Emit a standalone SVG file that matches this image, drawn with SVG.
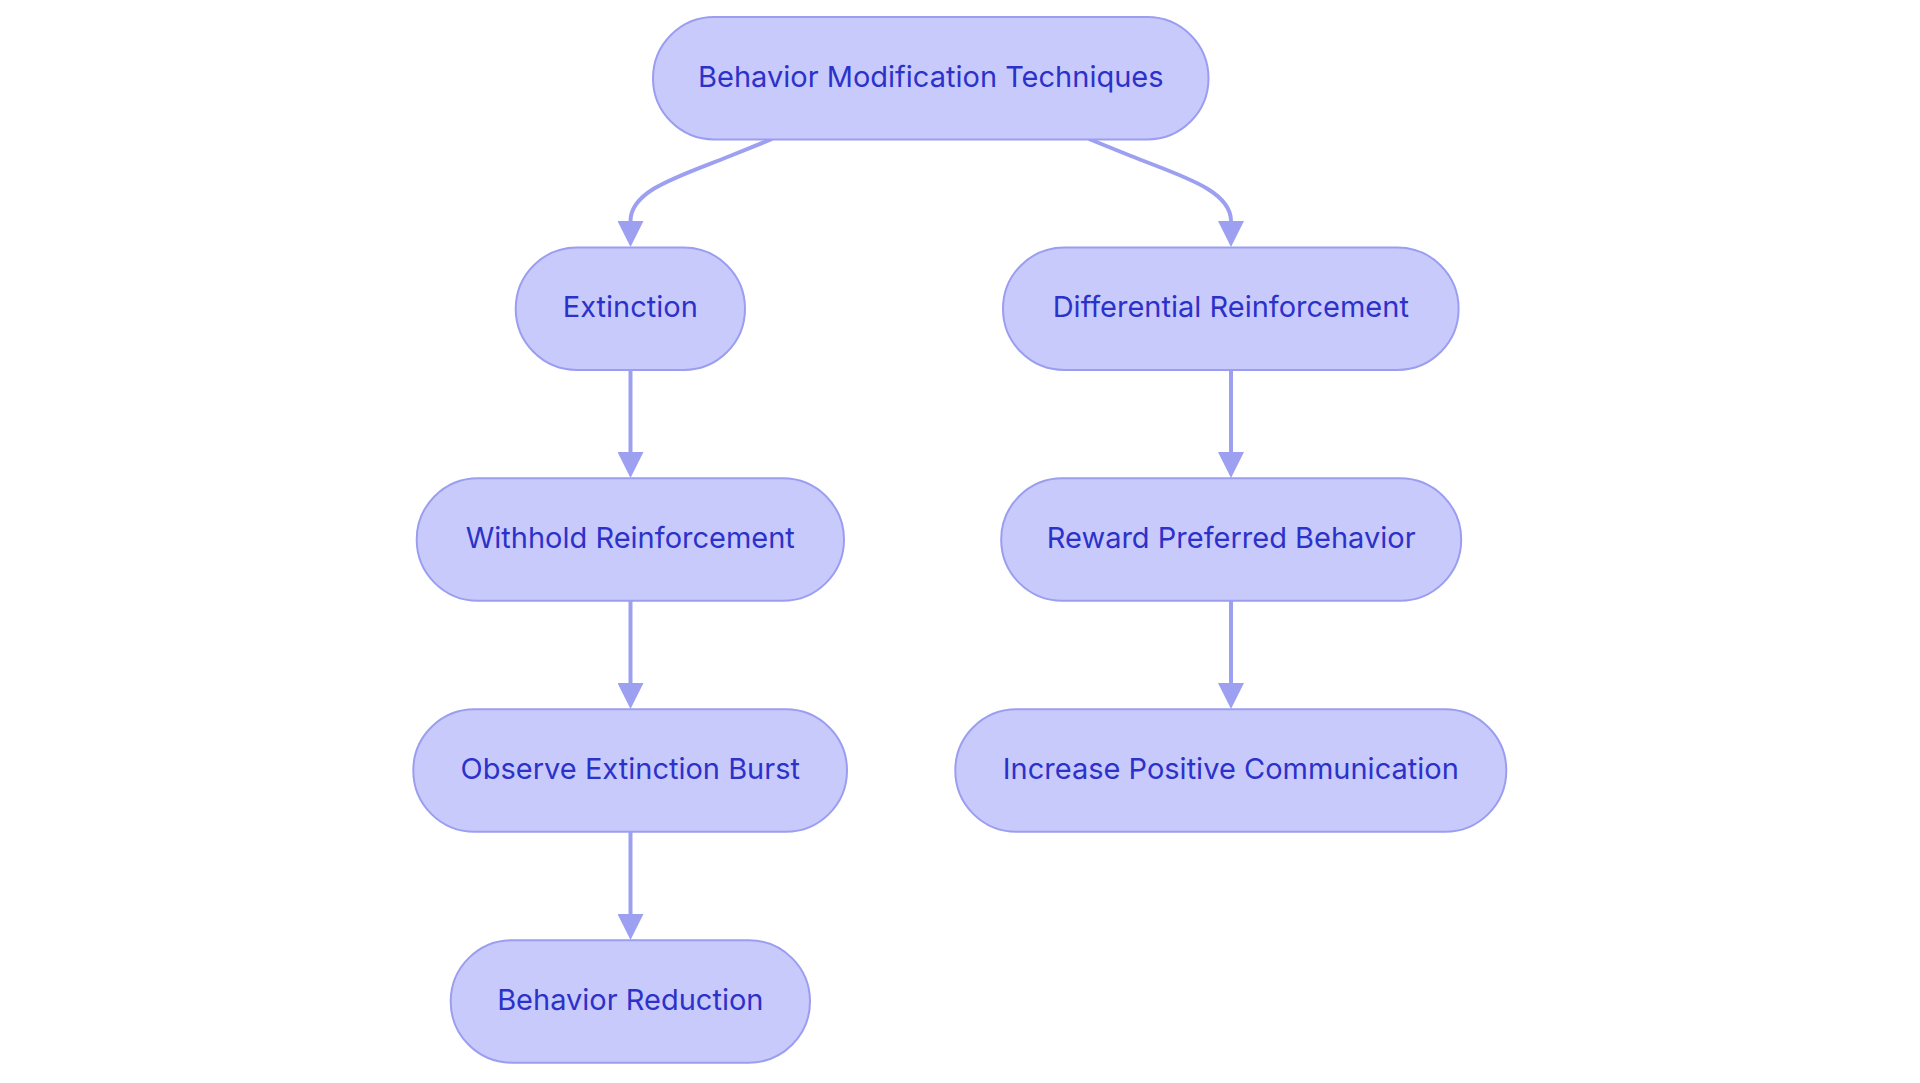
<svg xmlns="http://www.w3.org/2000/svg" width="1920" height="1083" viewBox="0 0 1920 1083">
<style>
.node rect{fill:#c9cafc;stroke:#9b9ef0;stroke-width:2}
.node text{font-family:Inter,"Open Sans","Liberation Sans",sans-serif;font-size:29px;fill:#2c32c9;text-anchor:middle}
.edges path{fill:none;stroke:#9da0f0;stroke-width:4}
</style>
<defs>
<marker id="arr" viewBox="0 0 10 10" refX="0" refY="5" markerWidth="27" markerHeight="26" markerUnits="userSpaceOnUse" orient="auto">
<path d="M0,0 L10,5 L0,10 z" fill="#9da0f0"/>
</marker>
</defs>
<rect width="1920" height="1083" fill="#ffffff"/>
<g class="edges">
<path d="M772,139 L730,156 C680,176 630.5,190 630.5,221" marker-end="url(#arr)"/>
<path d="M1089,139 L1131,156 C1181,176 1231,190 1231,221" marker-end="url(#arr)"/>
<path d="M630.5,370 L630.5,452" marker-end="url(#arr)"/>
<path d="M630.5,601 L630.5,683" marker-end="url(#arr)"/>
<path d="M630.5,832 L630.5,914" marker-end="url(#arr)"/>
<path d="M1231,370 L1231,452" marker-end="url(#arr)"/>
<path d="M1231,601 L1231,683" marker-end="url(#arr)"/>
</g>
<g id="n-top" class="node"><rect x="653" y="17" width="555.5" height="122.5" rx="61.25"/><text x="930.8" y="86.5">Behavior Modification Techniques</text></g>
<g id="n-ext" class="node"><rect x="515.7" y="247.5" width="229.3" height="122.5" rx="61.25"/><text x="630.3" y="317">Extinction</text></g>
<g id="n-withhold" class="node"><rect x="416.7" y="478.3" width="427.3" height="122.5" rx="61.25"/><text x="630.3" y="547.8">Withhold Reinforcement</text></g>
<g id="n-observe" class="node"><rect x="413.3" y="709.3" width="433.7" height="122.5" rx="61.25"/><text x="630.3" y="778.8">Observe Extinction Burst</text></g>
<g id="n-reduction" class="node"><rect x="450.7" y="940.2" width="359.3" height="122.5" rx="61.25"/><text x="630.3" y="1009.7">Behavior Reduction</text></g>
<g id="n-diff" class="node"><rect x="1003" y="247.5" width="455.6" height="122.5" rx="61.25"/><text x="1230.8" y="317">Differential Reinforcement</text></g>
<g id="n-reward" class="node"><rect x="1001.2" y="478.3" width="460" height="122.5" rx="61.25"/><text x="1231.2" y="547.8">Reward Preferred Behavior</text></g>
<g id="n-increase" class="node"><rect x="955.3" y="709.3" width="551" height="122.5" rx="61.25"/><text x="1230.8" y="778.8">Increase Positive Communication</text></g>
</svg>
